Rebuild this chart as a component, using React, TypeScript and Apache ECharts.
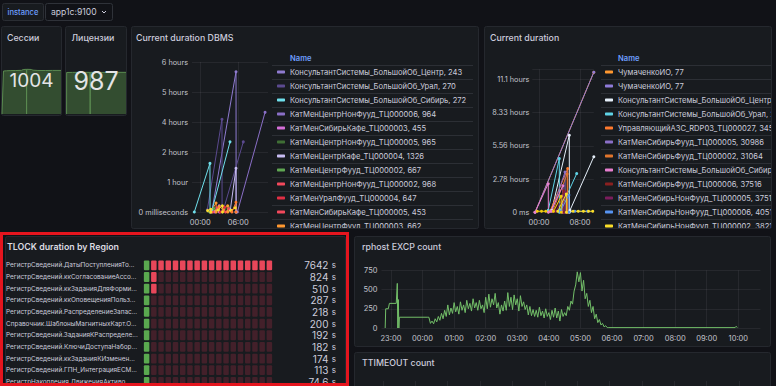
import React, { useEffect, useRef } from "react";
import * as echarts from "echarts";

const FONT = "Inter, 'Noto Sans', 'DejaVu Sans', sans-serif";
const BG = "#111217";
const PANEL_BG = "#181b1f";
const PANEL_BORDER = "#25282e";
const TXT = "#ccccdc";
const AXIS_TXT = "#c2c3cc";
const GRID_LINE = "rgba(204,204,220,0.08)";
const SEP_LINE = "#2c2f35";
const TITLE_SIZE = 8.8;

// ---------- time helpers ----------
const ts = (hm: string) => {
  const [h, m] = hm.split(":").map(Number);
  return new Date(2024, 0, h >= 18 ? 15 : 16, h, m).getTime();
};
const hhmm = (v: number) => {
  const d = new Date(v);
  return `${String(d.getHours()).padStart(2, "0")}:${String(d.getMinutes()).padStart(2, "0")}`;
};
const rangeFrom = "22:42";
const rangeTo = "10:42";

// ---------- top bar ----------
const variableLabel = "instance";
const variableValue = "app1c:9100";

// ---------- stat panels (time, value) ----------
const sessionsTitle = "Сессии";
const sessionsSpark: [string, number][] = [
  ["22:42", 0], ["23:00", 990], ["23:40", 996], ["00:30", 1000], ["01:30", 1002], ["02:40", 1006],
  ["03:00", 1024], ["03:40", 1030], ["03:42", 0], ["03:44", 1030], ["04:40", 1026], ["05:00", 1010],
  ["06:00", 1003], ["07:30", 1002], ["09:00", 1004], ["10:42", 1004],
];
const licensesTitle = "Лицензии";
const licensesSpark: [string, number][] = [
  ["22:49", 0], ["22:50", 984], ["00:00", 986], ["01:30", 987], ["02:40", 988],
  ["03:30", 987], ["03:32", 0], ["03:34", 987], ["05:00", 986], ["07:00", 987], ["09:00", 988], ["10:42", 987],
];

// ---------- Current duration DBMS ----------
const dbmsTitle = "Current duration DBMS";
const dbmsTicksX = ["00:00", "06:00"];
const dbmsNames = [
  "КонсультантСистемы_БольшойОб_Центр, 243",
  "КонсультантСистемы_БольшойОб_Урал, 270",
  "КонсультантСистемы_БольшойОб_Сибирь, 272",
  "КатМенЦентрНонФууд_ТЦ000006, 964",
  "КатМенСибирьКафе_ТЦ000003, 455",
  "КатМенЦентрНонФууд_ТЦ000005, 965",
  "КатМенЦентрКафе_ТЦ000004, 1326",
  "КатМенЦентрФууд_ТЦ000002, 667",
  "КатМенЦентрНонФууд_ТЦ000002, 968",
  "КатМенУралФууд_ТЦ000004, 647",
  "КатМенСибирьКафе_ТЦ000005, 453",
  "КатМенЦентрФууд_ТЦ000003, 662",
  "КатМенУралКафе_ТЦ000002, 318",
  "КатМенСибирьФууд_ТЦ000004, 512",
];
const dbmsLegendRows = 12;
const dbmsColors = ["#8f7bd0", "#5b4a8f", "#6fe0ec", "#8a6fc7", "#d46fd8", "#3f6e35", "#c8bdf2", "#5fa652", "#f2495c", "#e02f44", "#f2495c", "#ff9830", "#fade2a", "#ff7a2e"];
const dbmsPoints: [string, number][][] = [
  [["01:49", 0], ["05:39", 20200], ["05:40", 0]],
  [["01:07", 300], ["03:26", 13350], ["03:27", 0], ["03:39", 300], ["06:48", 10100]],
  [["23:04", 0], ["01:32", 7000], ["01:33", 0], ["01:52", 300], ["04:42", 10100]],
  [["05:52", 0], ["10:14", 14350]],
  [["02:20", 0], ["03:00", 900], ["03:01", 0]],
  [["03:30", 0], ["04:30", 700]],
  [["04:45", 300], ["05:39", 6300], ["05:40", 0]],
  [["01:30", 0], ["02:10", 500]],
  [["02:00", 0], ["02:40", 600]],
  [["03:10", 0], ["03:50", 700]],
  [["04:00", 0], ["04:30", 500]],
  [["01:40", 0], ["02:30", 1300], ["02:31", 0], ["03:00", 800], ["03:40", 300], ["04:20", 900], ["04:21", 0]],
  [["01:10", 200], ["01:40", 400], ["01:41", 0], ["02:50", 300], ["03:30", 900], ["03:31", 0], ["04:50", 200], ["05:30", 600]],
  [["05:00", 0], ["05:38", 1400], ["05:39", 0]],
];

// ---------- Current duration ----------
const curTitle = "Current duration";
const curTicksX = ["00:00", "08:00"];
const curNames = [
  "ЧумаченкоИО, 77",
  "ЧумаченкоИО, 77 ",
  "КонсультантСистемы_БольшойОб_Центр, 243",
  "КонсультантСистемы_БольшойОб_Урал, 270",
  "УправляющийАЗС_RDP03_ТЦ000027, 34518",
  "КатМенСибирьФууд_ТЦ000005, 30986",
  "КатМенСибирьФууд_ТЦ000002, 31064",
  "КонсультантСистемы_БольшойОб_Сибирь, 272",
  "КатМенСибирьФууд_ТЦ000006, 37516",
  "КатМенСибирьНонФууд_ТЦ000005, 37512",
  "КатМенСибирьНонФууд_ТЦ000006, 40512",
  "КатМенСибирьНонФууд_ТЦ000002, 38214",
  "КатМенСибирьКафе_ТЦ000001, 36120",
];
const curLegendRows = 12;
const curColors = ["#ff9830", "#8f7bd9", "#e6f0fa", "#5fd3e6", "#ff7a2e", "#8a6fc7", "#e0752d", "#e87fd0", "#8a2020", "#7a1d5c", "#5794f2", "#fade2a", "#f2cc0c"];
const curPoints: [string, number][][] = [
  [["23:14", 0], ["10:42", 42100]],
  [["23:14", 0], ["10:42", 42100]],
  [["02:29", 600], ["05:55", 23160], ["05:56", 0], ["06:03", 600], ["10:42", 16700]],
  [["01:49", 600], ["03:58", 16150], ["03:59", 0], ["04:06", 600], ["07:22", 11640]],
  [["02:09", 300], ["05:36", 13140], ["05:37", 0]],
  [["02:29", 300], ["05:05", 12100], ["05:06", 0]],
  [["02:40", 300], ["05:30", 11500], ["05:31", 0]],
  [["23:14", 0], ["01:49", 8600], ["01:50", 0], ["02:20", 300], ["04:40", 8000], ["04:41", 0]],
  [["03:00", 300], ["04:50", 6500], ["04:51", 0]],
  [["03:20", 300], ["05:10", 6000], ["05:11", 0]],
  [["04:10", 300], ["05:50", 5200], ["05:51", 0], ["07:00", 300], ["09:30", 300]],
  [["03:40", 300], ["05:20", 5500], ["05:21", 0], ["06:40", 300], ["07:40", 300], ["08:40", 300], ["09:40", 300], ["10:30", 300]],
  [["23:40", 300], ["00:30", 300], ["01:20", 300], ["02:50", 300], ["04:20", 4800], ["04:21", 0]],
];

// ---------- TLOCK ----------
const tlockTitle = "TLOCK duration by Region";
const tlockNames = [
  "РегистрСведений.ДатыПоступленияТо...",
  "РегистрСведений.ккСогласованиеАссо...",
  "РегистрСведений.ккЗаданияДляФорми...",
  "РегистрСведений.ккОповещенияПольз...",
  "РегистрСведений.РаспределениеЗапас...",
  "Справочник.ШаблоныМагнитныхКарт.О...",
  "РегистрСведений.ЗаданияКРаспределе...",
  "РегистрСведений.КлючиДоступаНабор...",
  "РегистрСведений.ккЗаданияКИзменен...",
  "РегистрСведений.ГПН_ИнтеграцияЕСМ...",
  "РегистрНакопления.ДвиженияАктиво...",
];
const tlockValues = [7642, 824, 510, 287, 218, 200, 192, 182, 174, 113, 74.6];
const tlockUnit = "s";
const LCD_CELLS = 18;
const tlockRedFrom = 400;

// ---------- rphost EXCP ----------
const excpTitle = "rphost EXCP count";
const excpTicksX = ["23:00", "00:00", "01:00", "02:00", "03:00", "04:00", "05:00", "06:00", "07:00", "08:00", "09:00", "10:00"];
const excpHead: [string, number][] = [
  ["22:49", 0], ["22:50", 250], ["22:55", 250], ["22:57", 320], ["23:10", 320],
  ["23:12", 580], ["23:13", 0], ["23:14", 370], ["23:15", 0], ["23:16", 140], ["00:10", 140],
];
const excpStart = "00:12";
const excpStepMin = 3;
const excpValues = [
  140, 60, 90, 55, 120, 80, 150, 100, 190, 120, 230, 150, 300, 170, 260, 190, 330, 210, 280, 180,
  340, 230, 300, 200, 360, 250, 320, 220, 380, 260, 330, 230, 360, 250, 300, 200, 400, 250, 440, 270,
  380, 300, 450, 260, 330, 180, 300, 220, 350, 230, 460, 280, 400, 240, 430, 300, 380, 220, 420, 280,
  340, 240, 300, 170, 280, 160, 240, 150, 230, 140, 270, 160, 220, 130, 250, 150, 200, 110, 230, 140,
  260, 130, 220, 90, 240, 150, 200, 160, 280, 230, 350, 310, 480, 560, 730, 600, 720, 480, 620, 380,
  450, 280, 360, 200, 280, 120, 180, 70, 110, 40, 60, 15, 30, 5, 5,
];
const excpTail: [string, number][] = [["09:54", 5], ["09:56", 22], ["09:58", 5]];

const ttimeoutTitle = "TTIMEOUT count";

// ---------- helpers ----------
const txt = (text: string, x: number, y: number, size: number, color: string, weight: number | string = 400, align = "left", extra: any = {}) => ({
  type: "text",
  x,
  y,
  z: 50,
  style: { text, fill: color, fontSize: size, fontWeight: weight, fontFamily: FONT, align, verticalAlign: "middle", ...extra },
});

const timeXAxis = (ticks: string[], labelSize: number, margin: number, showLabels = true) => ({
  type: "value",
  min: ts(rangeFrom),
  max: ts(rangeTo),
  axisLine: { show: false },
  axisTick: { show: false, customValues: ticks.map(ts) },
  axisLabel: {
    show: showLabels,
    customValues: ticks.map(ts),
    formatter: (v: number) => hhmm(v),
    color: AXIS_TXT,
    fontSize: labelSize,
    fontFamily: FONT,
    margin,
  },
  splitLine: { show: true, lineStyle: { color: GRID_LINE, width: 1 } },
});

const lineSeries = (names: string[], colors: string[], pts: [string, number][][]) =>
  names.map((name, i) => ({
    type: "line",
    name,
    color: colors[i],
    data: pts[i].map(([t, v]) => [ts(t), v]),
    showSymbol: true,
    symbol: "circle",
    symbolSize: 3,
    lineStyle: { width: 1, color: colors[i] },
    itemStyle: { color: colors[i] },
    emphasis: { disabled: true },
  }));

const legendTable = (names: string[], left: number, top: number) => ({
  orient: "vertical",
  left,
  top,
  padding: 0,
  itemWidth: 8,
  itemHeight: 3,
  itemGap: 3,
  icon: "roundRect",
  selectedMode: false,
  data: names,
  formatter: (n: string) => n.trim(),
  textStyle: { color: TXT, fontSize: 7.6, fontFamily: FONT, lineHeight: 11 },
});

const separators = (count: number, x1: number, x2: number, firstY: number) =>
  Array.from({ length: count + 1 }, (_, i) => ({
    type: "line",
    z: 1,
    shape: { x1, y1: firstY + i * 14 + 0.5, x2, y2: firstY + i * 14 + 0.5 },
    style: { stroke: SEP_LINE, lineWidth: 1 },
  }));

// ---------- options ----------
const panelRects = [
  [1, 26, 60, 89],
  [65, 26, 61, 89],
  [131, 26, 347, 202],
  [484, 26, 287, 202],
  [5, 236, 340, 150],
  [354, 236, 416, 110],
  [354, 352, 416, 40],
];

const sparkSeries = (d: [string, number][], i: number) => ({
  type: "line",
  xAxisIndex: i,
  yAxisIndex: i,
  data: d.map(([t, v]) => [ts(t), v]),
  showSymbol: false,
  lineStyle: { color: "#5a8a50", width: 1 },
  areaStyle: { color: "#334d30", opacity: 1 },
});

const baseOption: any = {
  animation: false,
  backgroundColor: BG,
  graphic: [
    ...panelRects.map(([x, y, w, h]) => ({
      type: "rect",
      z: -5,
      shape: { x: x + 0.5, y: y + 0.5, width: w, height: h, r: 2 },
      style: { fill: PANEL_BG, stroke: PANEL_BORDER, lineWidth: 1 },
    })),
    { type: "rect", z: -5, shape: { x: 2.5, y: 3.5, width: 41, height: 17, r: 2 }, style: { fill: PANEL_BG, stroke: "#2a2d33", lineWidth: 1 } },
    txt(variableLabel, 23, 12, 7.6, "#6e9fff", 500, "center"),
    { type: "rect", z: -5, shape: { x: 45.5, y: 3.5, width: 67, height: 17, r: 2 }, style: { fill: BG, stroke: "#2f3239", lineWidth: 1 } },
    txt(variableValue, 51, 12, 8.6, TXT),
    { type: "polyline", z: 50, shape: { points: [[102, 11], [104, 13], [106, 11]] }, style: { stroke: TXT, lineWidth: 1, fill: null } },
    txt(sessionsTitle, 7, 37, TITLE_SIZE, TXT, 500),
    txt(licensesTitle, 71.5, 37, TITLE_SIZE, TXT, 500, "left", { width: 44, overflow: "truncate", ellipsis: "" }),
    txt(String(sessionsSpark[sessionsSpark.length - 1][1]), 31.5, 80.5, 19, "#e4e4e6", 400, "center"),
    txt(String(licensesSpark[licensesSpark.length - 1][1]), 96, 81, 25, "#e4e4e6", 400, "center"),
  ],
  grid: [
    { left: 2, top: 68, width: 59, height: 46, outerBoundsMode: "none" },
    { left: 66, top: 68, width: 60, height: 46, outerBoundsMode: "none" },
  ],
  xAxis: [0, 1].map((i) => ({ type: "value", gridIndex: i, show: false, min: ts(rangeFrom), max: ts(rangeTo) })),
  yAxis: [
    { type: "value", gridIndex: 0, show: false, min: 0, max: 1060 },
    { type: "value", gridIndex: 1, show: false, min: 0, max: 1090 },
  ],
  series: [sparkSeries(sessionsSpark, 0), sparkSeries(licensesSpark, 1)],
};

const hoursLabel = (v: number) => {
  if (v === 0) return "0 milliseconds";
  const h = Math.round(v / 3600);
  return h === 1 ? "1 hour" : `${h} hours`;
};

const dbmsOption: any = {
  animation: false,
  graphic: [
    txt(dbmsTitle, 5, 11.5, TITLE_SIZE, TXT, 500),
    txt("Name", 159, 32, 7.6, "#6e9fff", 600),
    ...separators(dbmsLegendRows, 141, 342, 39),
  ],
  legend: legendTable(dbmsNames.slice(0, dbmsLegendRows), 146, 40.5),
  grid: { left: 61, top: 36, width: 76, height: 150, outerBoundsMode: "none" },
  xAxis: timeXAxis(dbmsTicksX, 7.5, 6),
  yAxis: {
    type: "value",
    min: 0,
    max: 21600,
    interval: 4320,
    axisLabel: { formatter: hoursLabel, color: AXIS_TXT, fontSize: 7.3, fontFamily: FONT, margin: 4 },
    axisLine: { show: false },
    axisTick: { show: false },
    splitLine: { lineStyle: { color: GRID_LINE } },
  },
  series: lineSeries(dbmsNames, dbmsColors, dbmsPoints),
};

const curLabel = (v: number) => (v === 0 ? "0 ms" : `${(v / 3600).toPrecision(3)} hours`);

const curOption: any = {
  animation: false,
  graphic: [
    txt(curTitle, 6, 11.5, TITLE_SIZE, TXT, 500),
    txt("Name", 134, 32, 7.6, "#6e9fff", 600),
    ...separators(curLegendRows, 117, 300, 39),
  ],
  legend: legendTable(curNames.slice(0, curLegendRows), 121, 40.5),
  grid: { left: 48.3, top: 43.3, width: 61.5, height: 143, outerBoundsMode: "none" },
  xAxis: timeXAxis(curTicksX, 7.5, 6),
  yAxis: {
    type: "value",
    min: 0,
    max: 43000,
    interval: 10000,
    axisLabel: { formatter: curLabel, color: AXIS_TXT, fontSize: 7.3, fontFamily: FONT, margin: 3, showMaxLabel: false },
    axisLine: { show: false },
    axisTick: { show: false },
    splitLine: { lineStyle: { color: GRID_LINE } },
  },
  series: lineSeries(curNames, curColors, curPoints),
};

// TLOCK LCD cells built from values
const tlockMax = Math.max(...tlockValues);
const lcdCells: number[][] = [];
tlockValues.forEach((v, i) => {
  for (let j = 0; j < LCD_CELLS; j++) {
    const cellStart = (j * tlockMax) / LCD_CELLS;
    lcdCells.push([j, i, v > cellStart ? 1 : 0, cellStart >= tlockRedFrom ? 1 : 0]);
  }
});
const LIT = ["#5aa84f", "#e8475a"];
const DIM = ["#24361f", "#43202a"];

const tlockOption: any = {
  animation: false,
  graphic: [txt(tlockTitle, 7, 14, TITLE_SIZE, "#dcdce2", 600)],
  grid: { left: 143, top: 27.5, width: 130, height: 128.2, outerBoundsMode: "none" },
  xAxis: { type: "category", data: Array.from({ length: LCD_CELLS }, (_, j) => j), show: false },
  yAxis: [
    {
      type: "category",
      inverse: true,
      data: tlockNames,
      axisLine: { show: false },
      axisTick: { show: false },
      axisLabel: { interval: 0, align: "left", margin: 137, color: TXT, fontSize: 6.4, fontFamily: FONT },
    },
    {
      type: "category",
      inverse: true,
      position: "right",
      data: tlockValues.map((v) => String(v)),
      axisLine: { show: false },
      axisTick: { show: false },
      axisLabel: {
        interval: 0,
        align: "right",
        margin: 63,
        formatter: (v: string) => `{n|${v}} {u|${tlockUnit}}`,
        rich: {
          n: { fontSize: 10, color: TXT, fontFamily: FONT },
          u: { fontSize: 8, color: TXT, fontFamily: FONT },
        },
      },
    },
  ],
  series: [
    {
      type: "custom",
      data: lcdCells,
      renderItem: (_p: any, api: any) => {
        const c = api.coord([api.value(0), api.value(1)]);
        const s = api.size([1, 1]);
        const w = s[0] * 0.76;
        const h = s[1] * 0.84;
        const idx = api.value(3);
        const fill = api.value(2) === 1 ? LIT[idx] : DIM[idx];
        return { type: "rect", shape: { x: c[0] - w / 2, y: c[1] - h / 2, width: w, height: h, r: 1 }, style: { fill } };
      },
    },
  ],
};

const excpData: [number, number][] = [
  ...excpHead.map(([t, v]) => [ts(t), v] as [number, number]),
  ...excpValues.map((v, i) => [ts(excpStart) + i * excpStepMin * 60000, v] as [number, number]),
  ...excpTail.map(([t, v]) => [ts(t), v] as [number, number]),
];

const excpOption: any = {
  animation: false,
  graphic: [txt(excpTitle, 8, 10, TITLE_SIZE, TXT, 500)],
  grid: { left: 27.5, top: 34.3, right: 9.6, height: 57.7, outerBoundsMode: "none" },
  xAxis: timeXAxis(excpTicksX, 7.5, 6),
  yAxis: {
    type: "value",
    min: 0,
    max: 750,
    interval: 250,
    axisLabel: { color: AXIS_TXT, fontSize: 7.5, fontFamily: FONT, margin: 4 },
    axisLine: { show: false },
    axisTick: { show: false },
    splitLine: { lineStyle: { color: GRID_LINE } },
  },
  series: [
    {
      type: "line",
      data: excpData,
      showSymbol: false,
      lineStyle: { color: "#73bf69", width: 1 },
      itemStyle: { color: "#73bf69" },
    },
  ],
};

const ttOption: any = {
  animation: false,
  graphic: [txt(ttimeoutTitle, 8, 10, TITLE_SIZE, TXT, 500)],
  grid: { left: 19.3, top: 29, right: 8.3, height: 50, outerBoundsMode: "none" },
  xAxis: timeXAxis(excpTicksX, 7.5, 6, false),
  yAxis: { type: "value", min: 0, max: 1, show: false, splitLine: { show: false } },
  series: [],
};

// ---------- components ----------
type Box = { left: number; top: number; width: number; height: number; drawH?: number };

function EChart({ box, option }: { box: Box; option: any }) {
  const ref = useRef<HTMLDivElement>(null);
  useEffect(() => {
    const chart = echarts.init(ref.current!, null, { renderer: "svg" });
    chart.setOption(option);
    return () => chart.dispose();
  }, [option]);
  return (
    <div style={{ position: "absolute", left: box.left, top: box.top, width: box.width, height: box.height, overflow: "hidden" }}>
      <div ref={ref} style={{ width: box.width, height: box.drawH ?? box.height }} />
    </div>
  );
}

export default function App() {
  return (
    <div style={{ position: "fixed", left: 0, top: 0, width: 776, height: 386, overflow: "hidden", background: BG, fontFamily: FONT }}>
      <EChart box={{ left: 0, top: 0, width: 776, height: 386 }} option={baseOption} />
      <EChart box={{ left: 131, top: 26, width: 347, height: 202, drawH: 300 }} option={dbmsOption} />
      <EChart box={{ left: 484, top: 26, width: 287, height: 202, drawH: 300 }} option={curOption} />
      <EChart box={{ left: 0, top: 232, width: 349, height: 154, drawH: 200 }} option={tlockOption} />
      <EChart box={{ left: 354, top: 236, width: 416, height: 110 }} option={excpOption} />
      <EChart box={{ left: 354, top: 352, width: 416, height: 34, drawH: 120 }} option={ttOption} />
      <div style={{ position: "absolute", left: 0, top: 232, width: 349, height: 154, boxSizing: "border-box", border: "3.5px solid #e5151e", pointerEvents: "none" }} />
    </div>
  );
}
